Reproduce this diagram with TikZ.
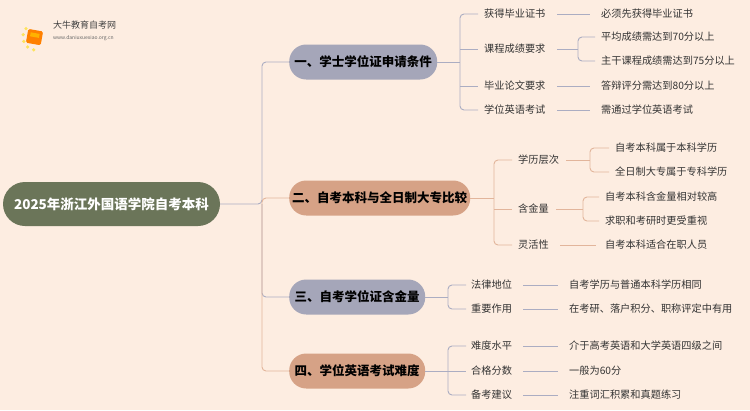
\documentclass[tikz,border=0pt]{standalone}
\usepackage{fontspec}
\setmainfont{Noto Sans CJK SC}
\usetikzlibrary{calc}
\definecolor{bg}{HTML}{FDEDE1}
\definecolor{root}{HTML}{6B7559}
\definecolor{gp}{HTML}{A5A6B9}
\definecolor{sal}{HTML}{D6A286}
\definecolor{lgp}{HTML}{ABADC2}
\definecolor{lsal}{HTML}{E2B59B}
\definecolor{txt}{HTML}{333333}
\begin{document}
\begin{tikzpicture}[x=1pt,y=-1pt,
  br/.style={rounded corners=17pt,minimum height=35pt,inner xsep=0pt,font=\fontsize{12.5}{13}\selectfont\bfseries,text=black,anchor=west},
  lf/.style={anchor=west,inner sep=1pt,font=\fontsize{10.2}{11}\selectfont,text=txt},
  cn/.style={line width=0.9pt,rounded corners=4pt}]
\fill[bg] (0,0) rectangle (750,410);
\useasboundingbox (0,0) rectangle (750,410);
% logo
\foreach \a in {100,130,160,190,220}{\fill[yellow!80!orange,opacity=.6] (36,37)++(\a:13) circle (1.8);}
\fill[orange,rounded corners=1.5pt,rotate around={-10:(34,37)}] (27,30) rectangle (42,44);
\fill[orange!60!yellow,rotate around={-10:(34,37)}] (30,33) rectangle (39,37);
\node[anchor=west,inner sep=0,font=\fontsize{9}{10}\selectfont,text=black!75] at (53,25) {大牛教育自考网};
\node[anchor=west,inner sep=0,font=\fontsize{5}{6}\selectfont,text=black!60] at (53,38) {www.daniuxuexiao.org.cn};
% root
\node[fill=root,rounded corners=22pt,minimum height=44pt,minimum width=217pt,text=white,font=\fontsize{13.5}{14}\selectfont\bfseries] (r) at (111.5,204) {2025年浙江外国语学院自考本科};
% branches
\node[br,fill=gp,minimum width=148pt] (b1) at (289,62) {一、学士学位证申请条件};
\node[br,fill=sal,minimum width=181pt] (b2) at (289,198) {二、自考本科与全日制大专比较};
\node[br,fill=gp,minimum width=136pt] (b3) at (289,297) {三、自考学位证含金量};
\node[br,fill=sal,minimum width=136pt] (b4) at (289,371) {四、学位英语考试难度};
\coordinate (t) at (262,204);
\draw[cn,lgp] (r.east) -- (t) -- (t|-b1.west) -- (b1.west);
\draw[cn,lsal] (t) -- (t|-b2.west) -- (b2.west);
\draw[cn,lgp] (t) -- (t|-b3.west) -- (b3.west);
\draw[cn,lsal] (t) -- (t|-b4.west) -- (b4.west);
% branch 1
\node[lf] (a1) at (483,14) {获得毕业证书};
\node[lf] (a2) at (483,49) {课程成绩要求};
\node[lf] (a3) at (483,86) {毕业论文要求};
\node[lf] (a4) at (483,110) {学位英语考试};
\node[lf] (a11) at (600,14) {必须先获得毕业证书};
\node[lf] (a21) at (600,37) {平均成绩需达到70分以上};
\node[lf] (a22) at (600,61) {主干课程成绩需达到75分以上};
\node[lf] (a31) at (600,86) {答辩评分需达到80分以上};
\node[lf] (a41) at (600,110) {需通过学位英语考试};
\coordinate (k1) at (460,62);
\draw[cn,lgp] (b1.east) -- (k1);
\draw[cn,lgp] (a1.west)++(-5,0) -- (k1|-a1) -- (k1|-a4) -- ++(18,0);
\draw[cn,lgp] (k1|-a2) -- ++(18,0);
\draw[cn,lgp] (k1|-a3) -- ++(18,0);
\draw[cn,lgp] (557,14) -- (590,14);
\draw[cn,lgp] (557,86) -- (590,86);
\draw[cn,lgp] (557,110) -- (590,110);
\draw[cn,lgp] (557,49) -- (578,49);
\draw[cn,lgp] (a21.west)++(-5,0) -- (578,37) -- (578,61) -- ($(a22.west)+(-5,0)$);
% branch 2
\node[lf] (c1) at (517,160) {学历层次};
\node[lf] (c2) at (517,209) {含金量};
\node[lf] (c3) at (517,245) {灵活性};
\node[lf] (c11) at (614,148) {自考本科属于本科学历};
\node[lf] (c12) at (614,172) {全日制大专属于专科学历};
\node[lf] (c21) at (604,197) {自考本科含金量相对较高};
\node[lf] (c22) at (604,221) {求职和考研时更受重视};
\node[lf] (c31) at (604,245) {自考本科适合在职人员};
\coordinate (k2) at (494,198);
\draw[cn,lsal] (b2.east) -- (k2);
\draw[cn,lsal] (c1.west)++(-5,0) -- (k2|-c1) -- (k2|-c3) -- ++(18,0);
\draw[cn,lsal] (k2|-c2) -- ++(18,0);
\draw[cn,lsal] (c1.east)++(6,0) -- (590,160);
\draw[cn,lsal] (c11.west)++(-5,0) -- (590,148) -- (590,172) -- ($(c12.west)+(-5,0)$);
\draw[cn,lsal] (c2.east)++(6,0) -- (583,209);
\draw[cn,lsal] (c21.west)++(-5,0) -- (583,197) -- (583,221) -- ($(c22.west)+(-5,0)$);
\draw[cn,lsal] (c3.east)++(10,0) -- ($(c31.west)+(-8,0)$);
% branch 3
\node[lf] (d1) at (470,285) {法律地位};
\node[lf] (d2) at (470,309) {重要作用};
\node[lf] (d11) at (568,285) {自考学历与普通本科学历相同};
\node[lf] (d21) at (568,309) {在考研、落户积分、职称评定中有用};
\coordinate (k3) at (448,297);
\draw[cn,lgp] (b3.east) -- (k3);
\draw[cn,lgp] (d1.west)++(-4,0) -- (k3|-d1) -- (k3|-d2) -- ($(d2.west)+(-4,0)$);
\draw[cn,lgp] (d1.east)++(10,0) -- ($(d11.west)+(-10,0)$);
\draw[cn,lgp] (d2.east)++(10,0) -- ($(d21.west)+(-10,0)$);
% branch 4
\node[lf] (e1) at (470,346) {难度水平};
\node[lf] (e2) at (470,371) {合格分数};
\node[lf] (e3) at (470,395) {备考建议};
\node[lf] (e11) at (568,346) {介于高考英语和大学英语四级之间};
\node[lf] (e21) at (568,371) {一般为60分};
\node[lf] (e31) at (568,395) {注重词汇积累和真题练习};
\coordinate (k4) at (448,371);
\draw[cn,lgp] (b4.east) -- (k4);
\draw[cn,lgp] (e1.west)++(-4,0) -- (k4|-e1) -- (k4|-e3) -- ($(e3.west)+(-4,0)$);
\draw[cn,lgp] (k4) -- ($(e2.west)+(-4,0)$);
\draw[cn,lgp] (e1.east)++(10,0) -- ($(e11.west)+(-10,0)$);
\draw[cn,lgp] (e2.east)++(10,0) -- ($(e21.west)+(-10,0)$);
\draw[cn,lgp] (e3.east)++(10,0) -- ($(e31.west)+(-10,0)$);
\end{tikzpicture}
\end{document}
